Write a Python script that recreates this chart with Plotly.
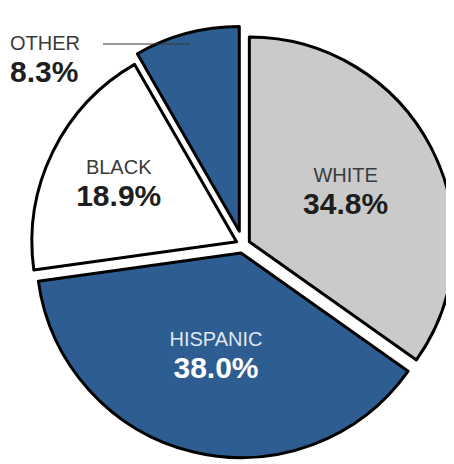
import plotly.graph_objects as go

# Data
groups = ["WHITE", "HISPANIC", "BLACK", "OTHER"]
shares = [34.8, 38.0, 18.9, 8.3]

# Styles
slice_colors = ["#cacaca", "#2e5e91", "#ffffff", "#2e5e91"]
name_colors = ["#3a3a3a", "#dfe7f0", "#3a3a3a", "#3a3a3a"]
value_colors = ["#1e1e1e", "#ffffff", "#1e1e1e", "#1e1e1e"]
pulls = [0.035, 0.04, 0.035, 0.07]
FONT = "Liberation Sans, Arial, sans-serif"

W, H = 454, 464
ML, MT, SIDE = 16, 18, 438


def px(x):
    return (x - ML) / SIDE


def py(y):
    return (MT + SIDE - y) / SIDE


templates = []
for i, g in enumerate(groups):
    if g == "OTHER":
        templates.append("")
    else:
        templates.append(
            f"<span style='font-size:20px;fill:{name_colors[i]}'>%{{label}}</span><br>"
            f"<span style='font-size:30px;font-weight:bold;fill:{value_colors[i]}'>%{{value:.1f}}%</span>"
        )

fig = go.Figure(go.Pie(
    labels=groups,
    values=shares,
    sort=False,
    direction="clockwise",
    rotation=0,
    pull=pulls,
    marker=dict(colors=slice_colors, line=dict(color="#000000", width=3)),
    texttemplate=templates,
    textposition="inside",
    insidetextorientation="horizontal",
    textfont=dict(family=FONT, size=24.5),
    hoverinfo="label+value",
    showlegend=False,
))

# Outside label for the small slice
oi = groups.index("OTHER")
fig.add_annotation(
    xref="paper", yref="paper",
    x=px(0), y=py(22),
    xanchor="left", yanchor="top", align="left",
    showarrow=False,
    text=(f"<span style='font-size:20px;color:#3a3a3a'>{groups[oi]}</span><br>"
          f"<span style='font-size:30px;font-weight:bold;color:#1e1e1e'>{shares[oi]:.1f}%</span>"),
    font=dict(family=FONT, size=24.5),
)
fig.add_shape(
    type="line", xref="paper", yref="paper",
    x0=px(95), x1=px(182), y0=py(36), y1=py(36),
    line=dict(color="#333333", width=1),
)

fig.update_layout(
    width=W, height=H,
    margin=dict(l=ML, r=W - ML - SIDE, t=MT, b=H - MT - SIDE, autoexpand=False),
    paper_bgcolor="white", plot_bgcolor="white",
)
fig.write_html("out.html")
